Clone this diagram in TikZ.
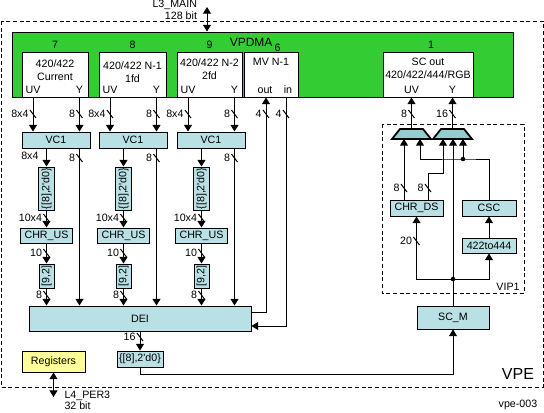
\documentclass[tikz,border=0pt]{standalone}
\usepackage{fontspec}
\setmainfont{Liberation Sans}
\usetikzlibrary{calc}
\usetikzlibrary{arrows.meta}
\usetikzlibrary{positioning}

\definecolor{dmagreen}{RGB}{51,204,51}
\definecolor{blkblue}{RGB}{185,224,228}
\definecolor{muxteal}{RGB}{150,204,204}
\definecolor{regyellow}{RGB}{255,255,153}

\tikzset{
	blk/.style={draw, fill=blkblue, inner sep=0pt, minimum height=12pt},
	port/.style={draw, fill=white, inner sep=0pt, minimum height=33.75pt},
	arr/.style={-{Triangle[width=6pt,length=5pt]}},
	dblarr/.style={{Triangle[width=6pt,length=5pt]}-{Triangle[width=6pt,length=5pt]}},
	lbl/.style={inner sep=0pt},
	mux/.style={draw, fill=muxteal, line width=1.3pt, line join=miter},
	frame/.style={draw, dash pattern=on 3pt off 2pt},
}
% bus width mark: x, y, label
\newcommand{\busmark}[3]{%
	\draw (#1,#2) ++(-3,-4) -- ++(6,8);
	\node[lbl, anchor=east] at (#1-4,#2) {#3};}

\begin{document}
\begin{tikzpicture}[x=0.75pt, y=-0.75pt, line width=0.75pt, font=\fontsize{8}{9.75}\selectfont]
		\useasboundingbox (0,0) rectangle (544,412);
		
		% frames
		\draw[frame] (1,21) rectangle (543,387);
		\draw[frame] (382,124) rectangle (524,293);
		\node[lbl] at (518,374) {\fontsize{12}{14}\selectfont VPE};
		\node[lbl] at (508,287) {VIP1};
		\node[lbl] at (518,405) {vpe-003};
		
		% VPDMA and its ports
		\node[draw, fill=dmagreen, inner sep=0pt, minimum width=375.75pt, minimum height=48.75pt] (vpdma) at (262.5,64.5) {};
		\node[lbl, anchor=east] at (273,42) {\fontsize{9}{11}\selectfont VPDMA};
		\node[port, minimum width=49.5pt] (p7) at (55,74.5) {};
		\node[port, minimum width=50.25pt] (p8) at (132.5,74.5) {};
		\node[port, minimum width=48.75pt] (p9) at (209.5,74.5) {};
		\node[port, minimum width=40.5pt] (p6) at (271,74.5) {};
		\node[port, minimum width=67.5pt] (p1) at (428,74.5) {};
		\node[lbl, above=2pt of p7] {7};
		\node[lbl, above=2pt of p8] {8};
		\node[lbl, above=2pt of p9] {9};
		\node[lbl] at (277.5,47.5) {6};
		\node[lbl] at (431,45) {1};
		\node[lbl, align=center] at (55,70.5) {420/422\\Current};
		\node[lbl, align=center] at (132.5,72) {420/422 N-1\\1fd};
		\node[lbl, align=center] at (209.5,69.5) {420/422 N-2\\2fd};
		\node[lbl] at (271,62) {MV N-1};
		\node[lbl, align=center] at (428,68.5) {SC out\\420/422/444/RGB};
		\node[lbl] at (33,90) {UV}; \node[lbl] at (79.5,90) {Y};
		\node[lbl] at (110,90) {UV}; \node[lbl] at (156.5,90) {Y};
		\node[lbl] at (188,90) {UV}; \node[lbl] at (234.5,90) {Y};
		\node[lbl] at (265,90) {out}; \node[lbl] at (288,90) {in};
		\node[lbl] at (411.5,90) {UV}; \node[lbl] at (452.5,90) {Y};
		
		% L3 port
		\coordinate (l3) at (207,7);
		\draw[dblarr] (l3) -- (l3 |- vpdma.north);
		\node[lbl, anchor=east] at (197.5,5) {L3\_MAIN};
		\node[lbl, anchor=east] at (197.5,16) {128 bit};
		
		% processing blocks
		\node[blk, minimum width=51pt] (vca) at (56,140) {VC1};
		\node[blk, minimum width=51pt] (vcb) at (133,140) {VC1};
		\node[blk, minimum width=51pt] (vcc) at (211,140) {VC1};
		\node[blk, minimum width=12pt, minimum height=32.25pt] (tra) at (46.5,188.5) {\rotatebox{90}{\{[8],2\textquotesingle d0\}}};
		\node[blk, minimum width=12pt, minimum height=32.25pt] (trb) at (123.5,188.5) {\rotatebox{90}{\{[8],2\textquotesingle d0\}}};
		\node[blk, minimum width=12pt, minimum height=32.25pt] (trc) at (201.5,188.5) {\rotatebox{90}{\{[8],2\textquotesingle d0\}}};
		\node[blk, minimum width=39pt, minimum height=11.25pt] (cua) at (46.5,235.5) {CHR\_US};
		\node[blk, minimum width=39pt, minimum height=11.25pt] (cub) at (123.5,235.5) {CHR\_US};
		\node[blk, minimum width=39pt, minimum height=11.25pt] (cuc) at (201.5,235.5) {CHR\_US};
		\node[blk, minimum width=11.25pt, minimum height=18pt] (ska) at (46.5,276) {\rotatebox{90}{[9,2]}};
		\node[blk, minimum width=11.25pt, minimum height=18pt] (skb) at (123.5,276) {\rotatebox{90}{[9,2]}};
		\node[blk, minimum width=11.25pt, minimum height=18pt] (skc) at (201.5,276) {\rotatebox{90}{[9,2]}};
		\node[blk, minimum width=166.5pt, minimum height=18.75pt] (dei) at (140,318.5) {DEI};
		\node[blk, minimum width=34.5pt] (sel) at (140,359) {\{[8],2\textquotesingle d0\}};
		\node[draw, fill=regyellow, inner sep=0pt, minimum width=47.25pt, minimum height=15.75pt] (regs) at (53.5,361.5) {Registers};
		\node[blk, minimum width=54pt, minimum height=17.25pt] (scm) at (453,317.5) {SC\_M};
		\node[blk, minimum width=39.75pt] (chrds) at (416.5,208) {CHR\_DS};
		\node[blk, minimum width=40.5pt] (csc) at (489,208) {CSC};
		\node[blk, minimum width=40.5pt, minimum height=11.25pt] (cvt) at (489,245.5) {422to444};
		
		% output muxes
		\draw[mux] (392,139) -- (400,129) -- (423,129) -- (431,139) -- cycle;
		\draw[mux] (433,139) -- (441,129) -- (464,129) -- (472,139) -- cycle;
		\coordinate (mxa) at (411.5,129); \coordinate (mxa1) at (404,139); \coordinate (mxa2) at (420,139);
		\coordinate (mxb) at (452.5,129); \coordinate (mxb1) at (443,139); \coordinate (mxb2) at (453,139); \coordinate (mxb3) at (463,139);
		
		% column 7
		\draw[arr] (p7.south -| 33,0) -- (vca.north -| 33,0); \busmark{33}{114}{8x4}
		\draw[arr] (p7.south -| 79.5,0) -- (vca.north -| 79.5,0); \busmark{79.5}{114}{8}
		\draw[arr] (vca.south -| tra) -- (tra.north); \node[lbl, anchor=east] at (39,156) {8x4};
		\draw[arr] (tra.south) -- (cua.north); \busmark{46.5}{218}{10x4}
		\draw[arr] (cua.south) -- (ska.north); \busmark{46.5}{253}{10}
		\draw[arr] (ska.south) -- (dei.north -| ska); \busmark{46.5}{295}{8}
		\draw[arr] (vca.south -| 79.5,0) -- (dei.north -| 79.5,0); \busmark{79.5}{158}{8}
		
		% column 8
		\draw[arr] (p8.south -| 110,0) -- (vcb.north -| 110,0); \busmark{110}{114}{8x4}
		\draw[arr] (p8.south -| 156.5,0) -- (vcb.north -| 156.5,0); \busmark{156.5}{114}{8}
		\draw[arr] (vcb.south -| trb) -- (trb.north);
		\draw[arr] (trb.south) -- (cub.north); \busmark{123.5}{218}{10x4}
		\draw[arr] (cub.south) -- (skb.north); \busmark{123.5}{253}{10}
		\draw[arr] (skb.south) -- (dei.north -| skb); \busmark{123.5}{295}{8}
		\draw[arr] (vcb.south -| 156.5,0) -- (dei.north -| 156.5,0); \busmark{156.5}{158}{8}
		
		% column 9
		\draw[arr] (p9.south -| 188,0) -- (vcc.north -| 188,0); \busmark{188}{114}{8x4}
		\draw[arr] (p9.south -| 234.5,0) -- (vcc.north -| 234.5,0); \busmark{234.5}{114}{8}
		\draw[arr] (vcc.south -| trc) -- (trc.north);
		\draw[arr] (trc.south) -- (cuc.north); \busmark{201.5}{218}{10x4}
		\draw[arr] (cuc.south) -- (skc.north); \busmark{201.5}{253}{10}
		\draw[arr] (skc.south) -- (dei.north -| skc); \busmark{201.5}{295}{8}
		\draw[arr] (vcc.south -| 234.5,0) -- (dei.north -| 234.5,0); \busmark{234.5}{158}{8}
		
		% motion vectors
		\draw[arr] ($(dei.east)+(0,-6.5)$) -| (p6.south -| 266,0); \busmark{266}{114}{4}
		\draw[arr] (p6.south -| 286,0) |- ($(dei.east)+(0,7.5)$); \busmark{286}{114}{4}
		
		% DEI output to scaler
		\draw[arr] (dei.south) -- (sel.north); \busmark{140}{337}{16}
		\draw[arr] (sel.south) -- ++(0,7) -| (scm.south);
		
		% registers
		\coordinate (l4) at (53.5,397);
		\draw[dblarr] (regs.south) -- (l4);
		\node[lbl, anchor=west] at (64,395.5) {L4\_PER3};
		\node[lbl, anchor=west] at (64,406) {32 bit};
		
		% VIP1
		\coordinate (dot1) at (453,279);
		\coordinate (jn) at (463,159);
		\draw[arr] (scm.north) -- (mxb2);
		\draw[arr] (dot1) -| (chrds.south); \busmark{416.5}{241}{20}
		\draw[arr] (dot1) -| (cvt.south);
		\draw[arr] (cvt.north) -- (csc.south);
		\draw[arr] (csc.north) |- (jn) -| (mxa2);
		\draw[arr] (jn) -- (mxb3);
		\draw[arr] (chrds.north -| mxa1) -- (mxa1); \busmark{404}{188}{8}
		\draw[arr] (chrds.north -| 428,0) |- (443,173) -- (mxb1); \busmark{428}{188}{8}
		\fill (dot1) circle[radius=1.7pt];
		\fill (jn) circle[radius=1.7pt];
		\draw[arr] (mxa) -- (mxa |- p1.south); \busmark{411.5}{114}{8}
		\draw[arr] (mxb) -- (mxb |- p1.south); \busmark{452.5}{114}{16}
	\end{tikzpicture}
\end{document}
